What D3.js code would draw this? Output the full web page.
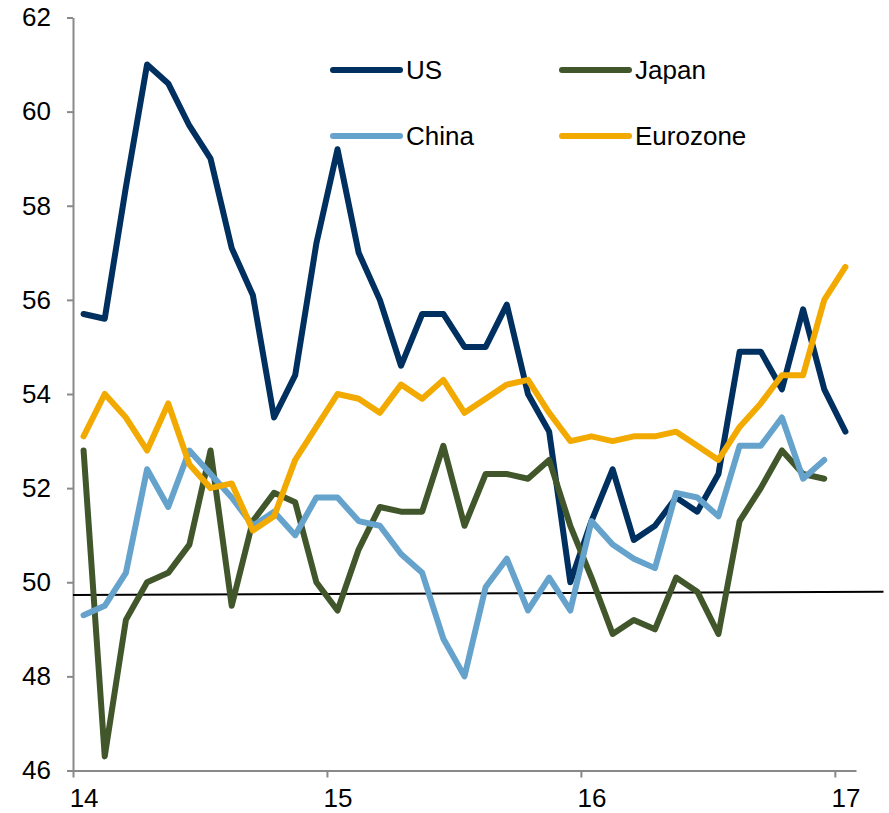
<!DOCTYPE html>
<html>
<head>
    <meta charset="utf-8" />
    <title>PMI</title>
    <script src="https://cdn.jsdelivr.net/npm/d3@7/dist/d3.min.js"></script>
    <style>
        body { margin: 0; background: #fff; }
        svg { display: block; font-family: "Liberation Sans", Arial, sans-serif; }
        .axis path, .axis line { stroke: #898989; stroke-width: 2px; }
        .axis text { font-size: 26px; fill: #000; font-family: "Liberation Sans", Arial, sans-serif; }
        .legend text { font-size: 26px; fill: #000; }
    </style>
</head>
<body>
    <div id="chart"></div>
    <script>
        // monthly, Jan 2014 .. Jan 2017
        var months = d3.range(37);
        var yearLabels = ["14", "15", "16", "17"];
        var yTicks = [46, 48, 50, 52, 54, 56, 58, 60, 62];

        var us = [55.7, 55.6, 58.4, 61.0, 60.6, 59.7, 59.0, 57.1, 56.1, 53.5, 54.4, 57.2,
                  59.2, 57.0, 56.0, 54.6, 55.7, 55.7, 55.0, 55.0, 55.9, 54.0, 53.2, 50.0,
                  51.3, 52.4, 50.9, 51.2, 51.8, 51.5, 52.3, 54.9, 54.9, 54.1, 55.8, 54.1, 53.2];
        var japan = [52.8, 46.3, 49.2, 50.0, 50.2, 50.8, 52.8, 49.5, 51.3, 51.9, 51.7, 50.0,
                     49.4, 50.7, 51.6, 51.5, 51.5, 52.9, 51.2, 52.3, 52.3, 52.2, 52.6, 51.2,
                     50.1, 48.9, 49.2, 49.0, 50.1, 49.8, 48.9, 51.3, 52.0, 52.8, 52.3, 52.2];
        var china = [49.3, 49.5, 50.2, 52.4, 51.6, 52.8, 52.3, 51.8, 51.2, 51.5, 51.0, 51.8,
                     51.8, 51.3, 51.2, 50.6, 50.2, 48.8, 48.0, 49.9, 50.5, 49.4, 50.1, 49.4,
                     51.3, 50.8, 50.5, 50.3, 51.9, 51.8, 51.4, 52.9, 52.9, 53.5, 52.2, 52.6];
        var eurozone = [53.1, 54.0, 53.5, 52.8, 53.8, 52.5, 52.0, 52.1, 51.1, 51.4, 52.6, 53.3,
                        54.0, 53.9, 53.6, 54.2, 53.9, 54.3, 53.6, 53.9, 54.2, 54.3, 53.6, 53.0,
                        53.1, 53.0, 53.1, 53.1, 53.2, 52.9, 52.6, 53.3, 53.8, 54.4, 54.4, 56.0, 56.7];

        // the thin black reference line (start / end in month index and value)
        var refX = [-0.5, 37.8];
        var refY = [49.73, 49.80];

        var series = [
            { name: "US", values: us, color: "#00305f" },
            { name: "Japan", values: japan, color: "#41562b" },
            { name: "China", values: china, color: "#66a3cc" },
            { name: "Eurozone", values: eurozone, color: "#f2aa00" }
        ];

        var width = 889, height = 813;

        var x = d3.scaleLinear().domain([-0.5, 36.5]).range([73, 856]);
        var y = d3.scaleLinear().domain([46, 62]).range([770.5, 17.5]);

        var svg = d3.select("#chart").append("svg")
            .attr("width", width)
            .attr("height", height);

        // y axis
        svg.append("g")
            .attr("class", "axis")
            .attr("transform", "translate(" + x(-0.5) + ",0)")
            .call(d3.axisLeft(y).tickValues(yTicks).tickSize(6).tickSizeOuter(0).tickPadding(16).tickFormat(d3.format("d")));

        // x axis: ticks on year boundaries, labels on January
        svg.append("g")
            .attr("class", "axis")
            .attr("transform", "translate(0," + y(46) + ")")
            .call(d3.axisBottom(x).tickValues([-0.5, 11.5, 23.5, 35.5]).tickSize(7).tickSizeOuter(0).tickFormat(""));

        var xl = svg.append("g")
            .attr("class", "axis")
            .attr("transform", "translate(0," + y(46) + ")")
            .call(d3.axisBottom(x).tickValues([0, 12, 24, 36]).tickSize(0).tickPadding(18)
                .tickFormat(function (d, i) { return yearLabels[i]; }));
        xl.select(".domain").remove();

        // reference line
        svg.append("line")
            .attr("x1", x(refX[0])).attr("y1", y(refY[0]))
            .attr("x2", x(refX[1])).attr("y2", y(refY[1]))
            .attr("stroke", "#000")
            .attr("stroke-width", 2);

        var line = d3.line()
            .x(function (d, i) { return x(months[i]); })
            .y(function (d) { return y(d); });

        svg.selectAll(".series")
            .data(series)
            .enter()
            .append("path")
            .attr("class", "series")
            .attr("d", function (d) { return line(d.values); })
            .attr("fill", "none")
            .attr("stroke", function (d) { return d.color; })
            .attr("stroke-width", 6)
            .attr("stroke-linejoin", "round")
            .attr("stroke-linecap", "round");

        // legend, two columns
        var legend = svg.selectAll(".legend")
            .data(series)
            .enter()
            .append("g")
            .attr("class", "legend")
            .attr("transform", function (d, i) {
                var lx = (i % 2) * 229 + 333;
                var ly = Math.floor(i / 2) * 66 + 70;
                return "translate(" + lx + "," + ly + ")";
            });

        legend.append("line")
            .attr("x1", 0).attr("x2", 67)
            .attr("stroke", function (d) { return d.color; })
            .attr("stroke-width", 6)
            .attr("stroke-linecap", "round");

        legend.append("text")
            .attr("x", 73)
            .attr("dy", "0.35em")
            .text(function (d) { return d.name; });
    </script>
</body>
</html>
